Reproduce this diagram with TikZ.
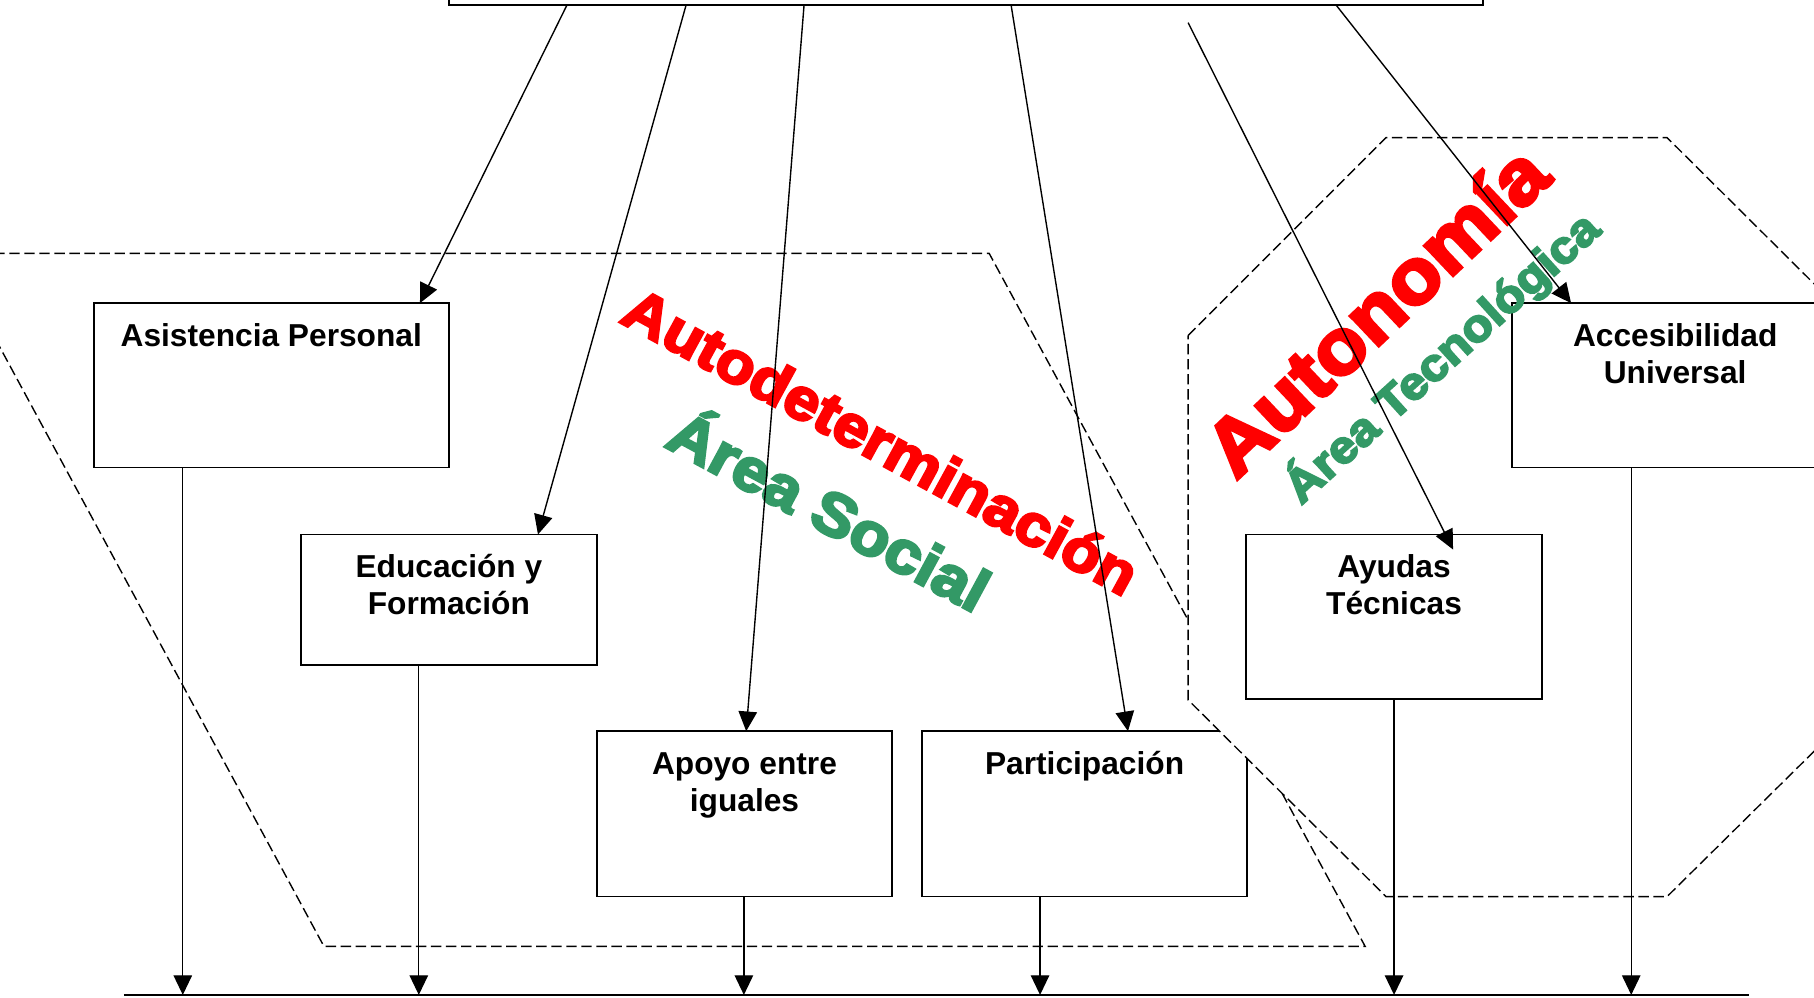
\documentclass[tikz,border=0pt]{standalone}
\usepackage{fontspec}
\setmainfont{Liberation Sans}
\newfontfamily\heavyfont[FakeBold=4.5,FakeStretch=1.08]{Liberation Sans Bold}
\usetikzlibrary{arrows.meta,calc}
\definecolor{wordred}{RGB}{255,0,0}
\definecolor{wordgreen}{RGB}{51,153,102}
\newcommand{\firstln}{\rule{0pt}{14pt}}
\begin{document}
\begin{tikzpicture}[x=0.5pt,y=-0.5pt,
  box/.style={draw, line width=0.7pt, inner sep=0pt, outer sep=0pt, fill=white},
  boxtext/.style={anchor=north, inner sep=0pt, align=center, font=\bfseries\fontsize{13.7}{16}\selectfont},
  arr/.style={line width=0.6pt, -{Triangle[length=8.5pt,width=8pt]}},
  zone/.style={draw, line width=0.6pt, dash pattern=on 4.5pt off 2pt},
  bigword/.style={inner sep=0pt, font=\heavyfont\fontsize{#1}{#1}\selectfont}
]
\useasboundingbox (0,0) rectangle (1568,862);

% social zone (parallelogram)
\draw[zone] (-44,219) -- (855,219) -- (1180,818) -- (280,818) -- cycle;

% top box
\node[box, minimum width=447pt, minimum height=40pt] (top) at (835,-35.5) {};

% left boxes
\node[box, minimum width=153.5pt, minimum height=71pt] (asis) at (234.5,333) {};
\node[boxtext] (asisT) at ($(asis.north)+(0,9)$) {\firstln Asistencia Personal};
\node[box, minimum width=128pt, minimum height=56.5pt] (edu) at (388,518.5) {};
\node[boxtext] (eduT) at ($(edu.north)+(0,9)$) {\firstln Educación y\\Formación};
\node[box, minimum width=127.5pt, minimum height=71.5pt] (apoyo) at (643.5,703.5) {};
\node[boxtext] (apoyoT) at ($(apoyo.north)+(0,9)$) {\firstln Apoyo entre\\iguales};
\node[box, minimum width=140.5pt, minimum height=71.5pt] (part) at (937.5,703.5) {};
\node[boxtext] (partT) at ($(part.north)+(0,9)$) {\firstln Participación};

% technological zone (octagon), covers what lies under it
\draw[zone, fill=white] (1027,290) -- (1198,119) -- (1441,119) -- (1613,290) -- (1613,605) -- (1441,775) -- (1198,775) -- (1027,605) -- cycle;

% right boxes
\node[box, minimum width=128pt, minimum height=71pt] (ayudas) at (1205,533) {};
\node[boxtext] (ayudasT) at ($(ayudas.north)+(0,9)$) {\firstln Ayudas\\Técnicas};
\node[box, minimum width=141pt, minimum height=71pt] (acces) at (1448,333) {};
\node[boxtext] (accesT) at ($(acces.north)+(0,9)$) {\firstln Accesibilidad\\Universal};

% area words
\node[bigword=25.3, text=wordred, rotate=-28.6, anchor=base] (autodet) at (753,397) {Autodeterminación};
\node[bigword=26, text=wordgreen, rotate=-28.3, anchor=base] (social) at (708,458) {Área Social};
\node[bigword=33.5, text=wordred, rotate=43.4] (autonom) at (1189,268) {Autonomía};
\node[bigword=19.7, text=wordgreen, rotate=42.2] (tecno) at (1246,309) {Área Tecnológica};

% top arrows
\coordinate (a1) at (490,0);  \coordinate (b1) at (363,0);
\coordinate (a2) at (593,0);  \coordinate (b2) at (465,0);
\coordinate (a3) at (695,0);  \coordinate (b3) at (645,0);
\coordinate (a4) at (874,0);  \coordinate (b4) at (975,0);
\coordinate (a5) at (1027,19.6); \coordinate (b5) at (1256,475);
\coordinate (a6) at (1155,0); \coordinate (b6) at (1358,0);
\draw[arr] (a1 |- top.south) -- (b1 |- asis.north);
\draw[arr] (a2 |- top.south) -- (b2 |- edu.north);
\draw[arr] (a3 |- top.south) -- (b3 |- apoyo.north);
\draw[arr] (a4 |- top.south) -- (b4 |- part.north);
\draw[arr] (a5) -- (b5);
\draw[arr] (a6 |- top.south) -- (b6 |- acces.north);

% bottom arrows
\coordinate (bl) at (107,860); \coordinate (br) at (1512,860);
\coordinate (c1) at (158,860); \coordinate (c2) at (362,860);
\coordinate (c3) at (643,860); \coordinate (c4) at (899,860);
\coordinate (c5) at (1205,860); \coordinate (c6) at (1410,860);
\draw[arr] (asis.south -| c1) -- (c1);
\draw[arr] (edu.south -| c2) -- (c2);
\draw[arr] (apoyo.south -| c3) -- (c3);
\draw[arr] (part.south -| c4) -- (c4);
\draw[arr] (ayudas.south -| c5) -- (c5);
\draw[arr] (acces.south -| c6) -- (c6);
\draw[line width=0.8pt] (bl) -- (br);
\end{tikzpicture}
\end{document}
